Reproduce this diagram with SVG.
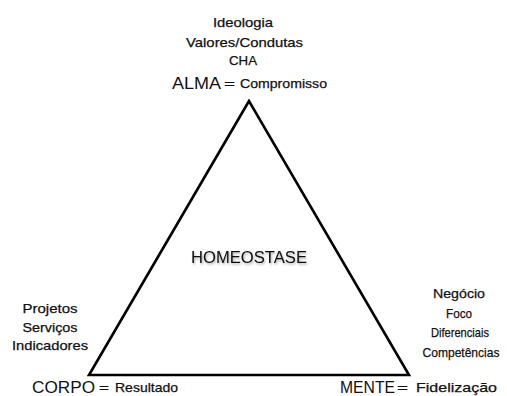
<svg xmlns="http://www.w3.org/2000/svg" width="507" height="396" viewBox="0 0 507 396">
  <defs>
    <style>
      .s { font-family: "Liberation Sans", Arial, sans-serif; font-size: 13px; fill: #111; stroke: #111; stroke-width: 0.25px; }
      .b { font-family: "Liberation Sans", Arial, sans-serif; font-size: 16px; fill: #111; }
      .c { text-anchor: middle; }
      .tri { fill: none; stroke: #000; stroke-width: 2.6; stroke-linejoin: miter; }
    </style>
    <filter id="sh" x="-10%" y="-30%" width="120%" height="160%">
      <feDropShadow dx="1" dy="1.5" stdDeviation="0.8" flood-color="#000" flood-opacity="0.35"/>
    </filter>
  </defs>
  <rect width="507" height="396" fill="#fff"/>

  <g id="connectors">
    <polygon class="tri" points="249,101 89,375 409,375"/>
  </g>

  <g id="alma">
    <text class="s c" x="243" y="27" textLength="60" lengthAdjust="spacingAndGlyphs">Ideologia</text>
    <text class="s c" x="244.5" y="47" textLength="117" lengthAdjust="spacingAndGlyphs">Valores/Condutas</text>
    <text class="s c" x="243" y="65" textLength="28" lengthAdjust="spacingAndGlyphs">CHA</text>
    <text class="b" x="172" y="89" textLength="49" lengthAdjust="spacingAndGlyphs">ALMA</text>
    <text class="s" x="224" y="88" textLength="11" lengthAdjust="spacingAndGlyphs">=</text>
    <text class="s" x="240" y="88" textLength="87" lengthAdjust="spacingAndGlyphs">Compromisso</text>
  </g>

  <g id="corpo">
    <text class="s c" x="50" y="313" textLength="55" lengthAdjust="spacingAndGlyphs">Projetos</text>
    <text class="s c" x="50" y="332" textLength="55" lengthAdjust="spacingAndGlyphs">Serviços</text>
    <text class="s c" x="50" y="350" textLength="76" lengthAdjust="spacingAndGlyphs">Indicadores</text>
    <text class="b" x="32" y="393" textLength="63" lengthAdjust="spacingAndGlyphs">CORPO</text>
    <text class="s" x="99" y="392" textLength="10" lengthAdjust="spacingAndGlyphs">=</text>
    <text class="s" x="115" y="392" textLength="63" lengthAdjust="spacingAndGlyphs">Resultado</text>
  </g>

  <g id="mente">
    <text class="s c" x="459" y="298" textLength="52" lengthAdjust="spacingAndGlyphs">Negócio</text>
    <text class="s c" x="459" y="318" textLength="26" lengthAdjust="spacingAndGlyphs">Foco</text>
    <text class="s c" x="460" y="337" textLength="58" lengthAdjust="spacingAndGlyphs">Diferenciais</text>
    <text class="s c" x="461" y="357" textLength="77" lengthAdjust="spacingAndGlyphs">Competências</text>
    <text class="b" x="340" y="393" textLength="55" lengthAdjust="spacingAndGlyphs">MENTE</text>
    <text class="s" x="397" y="392" textLength="11" lengthAdjust="spacingAndGlyphs">=</text>
    <text class="s" x="416" y="392" textLength="81" lengthAdjust="spacingAndGlyphs">Fidelização</text>
  </g>

  <g id="homeostase">
    <text class="b c" x="249" y="263" filter="url(#sh)" textLength="116" lengthAdjust="spacingAndGlyphs">HOMEOSTASE</text>
  </g>
</svg>
